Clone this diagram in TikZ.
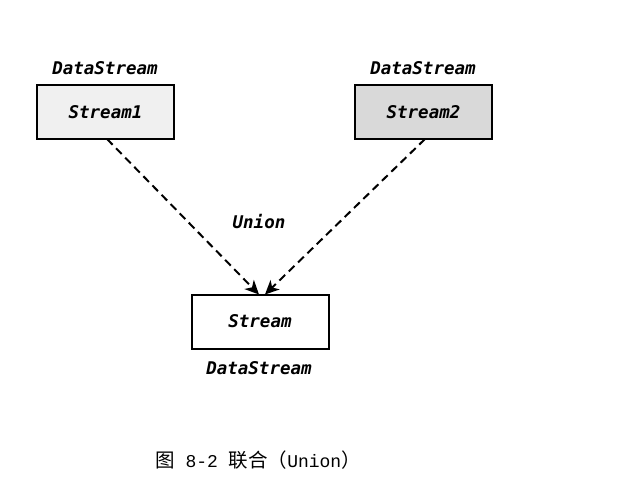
\documentclass[tikz,border=0pt]{standalone}
\usepackage{fontspec}
\setmonofont{DejaVu Sans Mono}
\newfontfamily\cjk{Noto Sans CJK SC}
\newfontfamily\capmono{Liberation Mono}
\usetikzlibrary{arrows.meta}
\begin{document}
\begin{tikzpicture}[x=1pt,y=-1pt,
  lbl/.style={font=\ttfamily\bfseries\itshape\fontsize{17.5}{20}\selectfont, inner sep=0pt},
  sbox/.style={draw=black, line width=2pt, minimum width=137pt, minimum height=54pt, inner sep=0pt, font=\ttfamily\bfseries\itshape\fontsize{17.5}{20}\selectfont},
  flow/.style={dashed, dash pattern=on 8pt off 5pt, line width=2pt, -{Stealth[length=14pt,width=13pt,inset=4pt]}}]
\useasboundingbox (0,0) rectangle (622,480);
\node[sbox, fill={rgb,255:red,240;green,240;blue,240}] (s1) at (105.5,112) {Stream1};
\node[sbox, fill={rgb,255:red,217;green,217;blue,217}] (s2) at (423.5,112) {Stream2};
\node[sbox, fill=white] (s) at (260,321.5) {Stream};
\node[lbl] (l1) at (105,68) {DataStream};
\node[lbl] (l2) at (423,68) {DataStream};
\node[lbl] (l3) at (259,368) {DataStream};
\node[lbl] (u) at (259,222) {Union};
\coordinate (t1) at (259,294.5);
\coordinate (t2) at (265,294.5);
\draw[flow] (107,139) -- (t1);
\draw[flow] (425,139) -- (t2);
\node[font=\cjk\fontsize{19.5}{22}\selectfont, inner sep=0pt] (cap) at (258,460) {图{\capmono\fontsize{18}{20}\selectfont{} 8-2 }联合（{\capmono\fontsize{18}{20}\selectfont Union}）};
\end{tikzpicture}
\end{document}
